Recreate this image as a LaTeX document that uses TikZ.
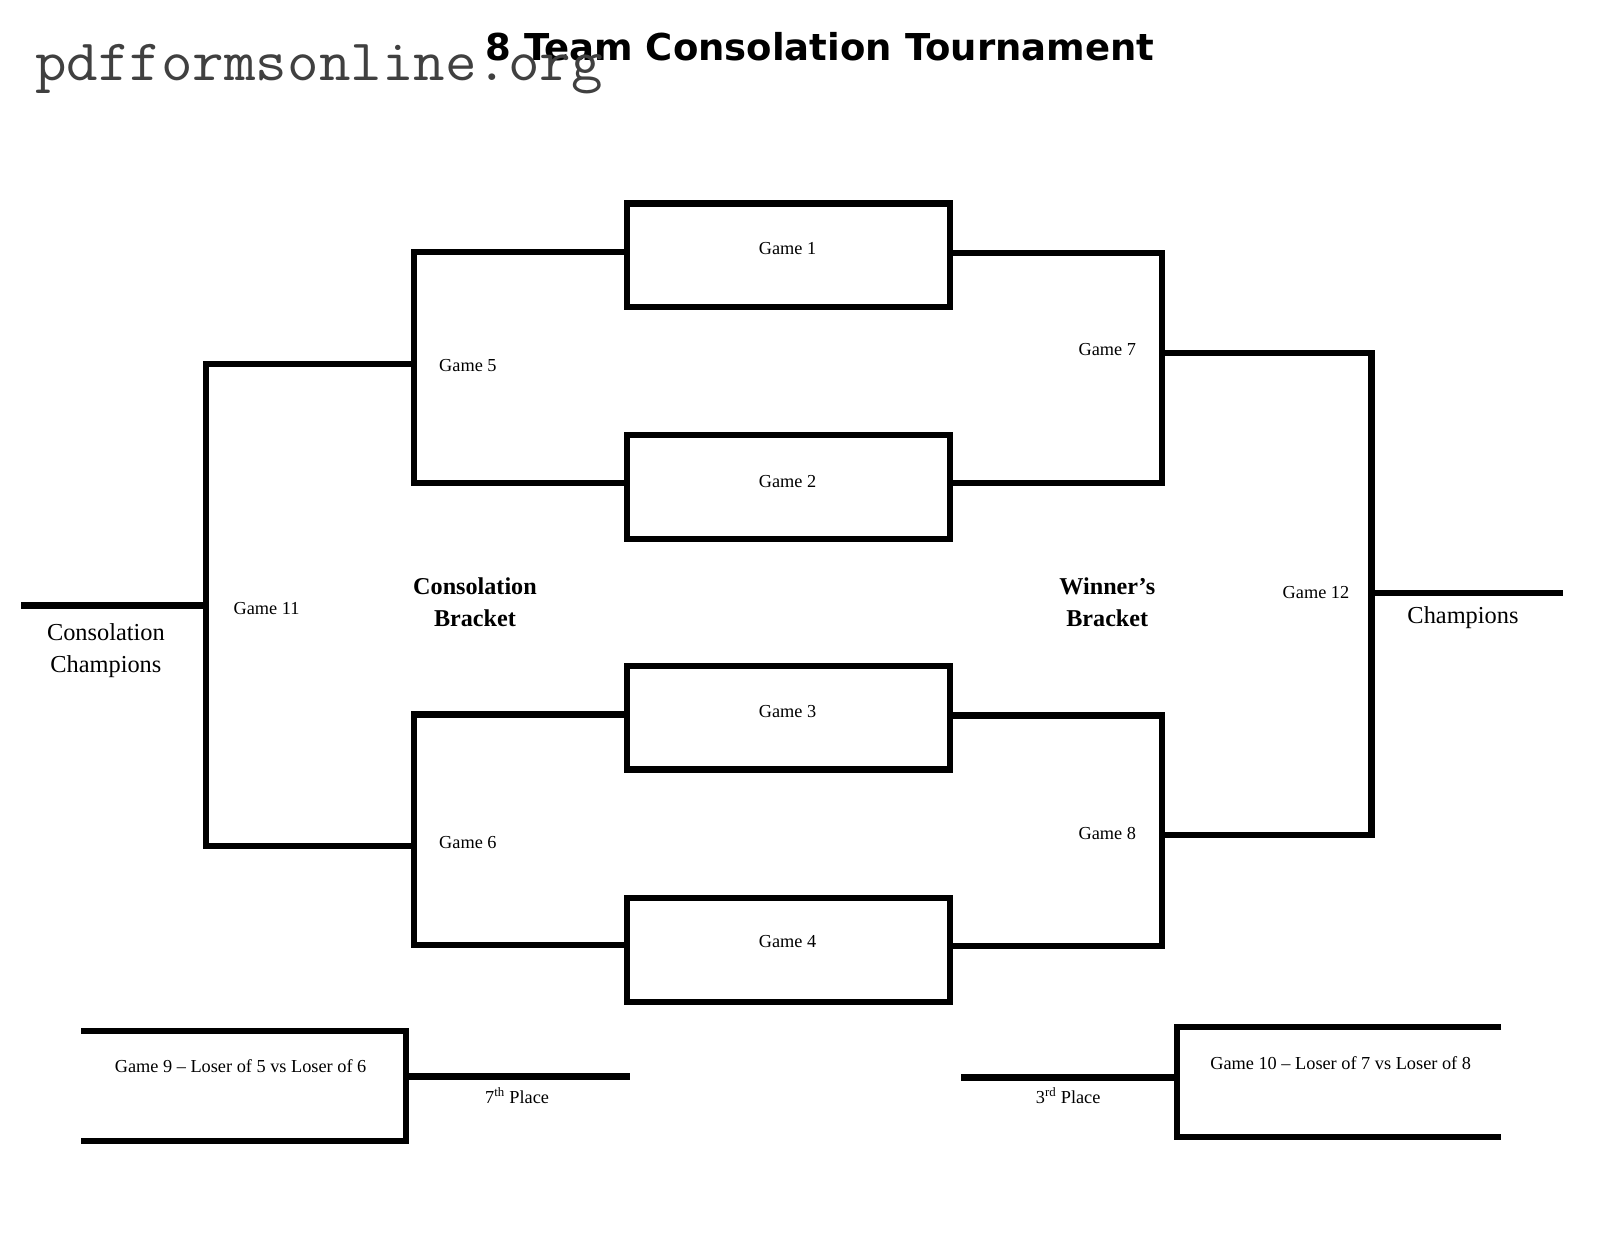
\documentclass[tikz,border=0pt]{standalone}
\usepackage{fontspec}
\setmainfont{Liberation Serif}
\newfontfamily\titlefont{DejaVu Sans}
\definecolor{wmgray}{HTML}{404040}
\begin{document}
\begin{tikzpicture}[x=1pt,y=-1pt,
  bline/.style={line width=6pt, line join=miter},
  gamebox/.style={draw, line width=6pt, minimum width=314pt, minimum height=101pt, inner sep=0pt, outer sep=0pt},
  lbl/.style={inner sep=0pt, anchor=base, font=\fontsize{17.8}{20}\selectfont},
  biglbl/.style={inner sep=0pt, anchor=base, align=center, font=\fontsize{23.7}{31}\selectfont},
  bracklbl/.style={inner sep=0pt, anchor=base, align=center, font=\fontsize{23.5}{31}\selectfont\bfseries}
]
\fill[white] (0,0) rectangle (1566,1210);
\useasboundingbox (0,0) rectangle (1566,1210);

% title
\node[inner sep=0pt, anchor=base] (title) at (797.5,59) {\titlefont\bfseries\fontsize{36}{40}\selectfont 8 Team Consolation Tournament};

% game boxes
\node[gamebox] (b1) at (767,248.5) {};
\node[gamebox] (b2) at (767,473.5) {};
\node[gamebox] (b3) at (767,698) {};
\node[gamebox] (b4) at (767,924) {};
\node[lbl] (t1) at (766,248) {Game 1};
\node[lbl] (t2) at (766,474) {Game 2};
\node[lbl] (t3) at (766,698) {Game 3};
\node[lbl] (t4) at (766,922) {Game 4};

% junction coordinates
\coordinate (g5) at (403,354);
\coordinate (g6) at (403,823);
\coordinate (g11) at (200,589);
\coordinate (cc) at (20,589);
\coordinate (g7) at (1130,343);
\coordinate (g8) at (1130,812);
\coordinate (g12) at (1334,577);
\coordinate (ch) at (1520,577);

% consolation bracket
\draw[bline] ([yshift=3.5pt]b1.west) -| (g5) |- ([yshift=4pt]b2.west);
\draw[bline] ([yshift=3pt]b3.west) -| (g6) |- ([yshift=4.5pt]b4.west);
\draw[bline] (g5) -| (g11) |- (g6);
\draw[bline] (g11) -- (cc);

% winner's bracket
\draw[bline] ([yshift=2.5pt]b1.east) -| (g7) |- ([yshift=3.5pt]b2.east);
\draw[bline] ([yshift=2pt]b3.east) -| (g8) |- ([yshift=4pt]b4.east);
\draw[bline] (g7) -| (g12) |- (g8);
\draw[bline] (g12) -- (ch);

% labels
\node[lbl, anchor=base west] (t5) at (427,361) {Game 5};
\node[lbl, anchor=base west] (t6) at (427,825) {Game 6};
\node[lbl, anchor=base west] (t11) at (227,598) {Game 11};
\node[lbl] (t7) at (1077,346) {Game 7};
\node[lbl] (t8) at (1077,817) {Game 8};
\node[lbl] (t12) at (1280,582) {Game 12};
\node[biglbl] (cchamp) at (103,654) {Consolation\\Champions};
\node[biglbl] (champ) at (1423,606) {Champions};
\node[bracklbl] (cbr) at (462,609) {Consolation\\Bracket};
\node[bracklbl] (wbr) at (1077,609) {Winner’s\\Bracket};

% game 9
\coordinate (g9a) at (79,1003);
\coordinate (g9) at (395,1047);
\coordinate (g9b) at (79,1110);
\coordinate (p7) at (613,1047);
\draw[bline] (g9a) -| (g9) |- (g9b);
\draw[bline] (g9) -- (p7);
\node[lbl] (t9) at (234,1043) {Game 9 – Loser of 5 vs Loser of 6};
\node[lbl] (t7th) at (503,1073) {7\textsuperscript{th} Place};

% game 10
\coordinate (g10a) at (1460,999);
\coordinate (g10) at (1145,1048);
\coordinate (g10b) at (1460,1106);
\coordinate (p3) at (935,1048);
\draw[bline] (g10a) -| (g10) |- (g10b);
\draw[bline] (g10) -- (p3);
\node[lbl] (t10) at (1304,1040) {Game 10 – Loser of 7 vs Loser of 8};
\node[lbl] (t3rd) at (1039,1073) {3\textsuperscript{rd} Place};

% watermark
\node[inner sep=0pt, anchor=base west, text=wmgray] (wm) at (34,78) {\scalebox{1.045}[1]{\ttfamily\fontsize{57}{60}\selectfont pdfformsonline.org}};
\end{tikzpicture}
\end{document}
